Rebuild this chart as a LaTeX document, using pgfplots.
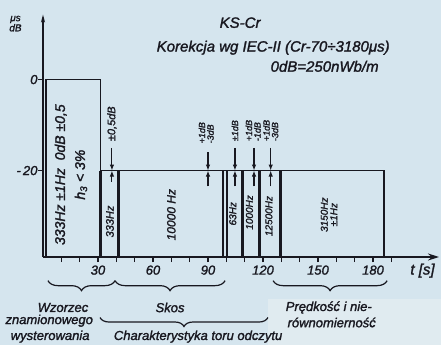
\documentclass[border=0pt]{standalone}
\usepackage{pgfplots}
\pgfplotsset{compat=1.18}
\usepackage{fontspec}
\setmainfont{Liberation Sans}[ItalicFeatures={FakeBold=1.6}]
\usetikzlibrary{arrows.meta,decorations.pathreplacing}
\definecolor{bg}{RGB}{213,229,238}
\definecolor{bglight}{RGB}{224,235,240}
\definecolor{ink}{RGB}{24,24,32}
\newcommand{\fs}[1]{\fontsize{#1}{#1}\selectfont\itshape}
\begin{document}
\begin{tikzpicture}
\fill[bg,use as bounding box] (-43pt,-88pt) rectangle (398pt,257pt);
\fill[bglight] (225pt,-88pt) rectangle (398pt,-42pt);
\begin{axis}[
  at={(0pt,0pt)}, anchor=south west,
  scale only axis, width=396pt, height=242.5pt,
  xmin=0, xmax=216, ymin=-39, ymax=14.3,
  axis lines=left,
  axis line style={ink,line width=1.5pt},
  x axis line style={-{Stealth[length=11pt,width=7pt]}},
  y axis line style={-{Stealth[length=8pt,width=4pt]}},
  xtick={30,60,...,180},
  minor xtick={10,20,...,190},
  ytick={-20,0}, yticklabels={{-\,20},{0}},
  tick align=outside,
  major tick length=5pt, minor tick length=5pt,
  tick style={ink,line width=1.2pt},
  ticklabel style={font=\fs{13}, text=ink},
  yticklabel style={xshift=3pt},
  /pgf/number format/assume math mode=true,
  clip=false,
]
% reference level box 0 dB
\addplot[ink,line width=1.6pt] coordinates {(1.6,-39)(1.6,0)(31.4,0)(31.4,-39)};
% -20 dB plateau
\addplot[ink,line width=1.5pt] coordinates {(31.4,-20)(186,-20)(186,-39)};
% separators
\addplot[ink,line width=3.5pt] coordinates {(31.4,-39)(31.4,-20)};
\addplot[ink,line width=3.5pt] coordinates {(41.2,-39)(41.2,-20)};
\addplot[ink,line width=1.4pt] coordinates {(98.2,-39)(98.2,-20)};
\addplot[ink,line width=1.4pt] coordinates {(100.4,-39)(100.4,-20)};
\addplot[ink,line width=3pt] coordinates {(108.6,-39)(108.6,-20)};
\addplot[ink,line width=3.5pt] coordinates {(118.1,-39)(118.1,-20)};
\addplot[ink,line width=3pt] coordinates {(129.3,-39)(129.3,-20)};
% tolerance arrows
\addplot[ink,line width=1.1pt,-{Latex[length=6pt,width=4.5pt]}] coordinates {(37.6,-15)(37.6,-20)};
\addplot[ink,line width=1.1pt,-{Latex[length=6pt,width=4.5pt]}] coordinates {(37.6,-22.5)(37.6,-20)};
\addplot[ink,line width=1.1pt,-{Latex[length=6pt,width=4.5pt]}] coordinates {(90,-16)(90,-20)};
\addplot[ink,line width=1.1pt,-{Latex[length=6pt,width=4.5pt]}] coordinates {(90,-23.5)(90,-20)};
\addplot[ink,line width=1.1pt,-{Latex[length=6pt,width=4.5pt]}] coordinates {(104.7,-15)(104.7,-20)};
\addplot[ink,line width=1.1pt,-{Latex[length=6pt,width=4.5pt]}] coordinates {(104.7,-23.5)(104.7,-20)};
\addplot[ink,line width=1.1pt,-{Latex[length=6pt,width=4.5pt]}] coordinates {(115.1,-15)(115.1,-20)};
\addplot[ink,line width=1.1pt,-{Latex[length=6pt,width=4.5pt]}] coordinates {(115.1,-23.5)(115.1,-20)};
\addplot[ink,line width=1.1pt,-{Latex[length=6pt,width=4.5pt]}] coordinates {(124.2,-15)(124.2,-20)};
\addplot[ink,line width=1.1pt,-{Latex[length=6pt,width=4.5pt]}] coordinates {(124.2,-23.5)(124.2,-20)};
% tolerance texts
\node[rotate=90,anchor=west,font=\fs{11},text=ink] at (axis cs:37.6,-14.3) {±0,5dB};
\node[rotate=90,anchor=west,font=\fontsize{9}{8.5}\selectfont\itshape,text=ink,align=left] at (axis cs:89,-14.8) {+1dB\\-3dB};
\node[rotate=90,anchor=west,font=\fs{9},text=ink] at (axis cs:104.7,-14.3) {±1dB};
\node[rotate=90,anchor=west,font=\fontsize{9}{8.5}\selectfont\itshape,text=ink,align=left] at (axis cs:114.6,-14.3) {+1dB\\-1dB};
\node[rotate=90,anchor=west,font=\fontsize{9}{8.5}\selectfont\itshape,text=ink,align=left] at (axis cs:124.2,-14.3) {+1dB\\-3dB};
% box labels
\node[rotate=90,font=\fontsize{14}{20}\selectfont\itshape,text=ink,align=center] at (axis cs:15.25,-20.9) {333Hz ±1Hz \ 0dB ±0,5\\h\textsubscript{3} < 3\%};
\node[rotate=90,font=\fs{11},text=ink] at (axis cs:36.5,-31.2) {333Hz};
\node[rotate=90,font=\fs{12},text=ink] at (axis cs:70,-29.7) {10000 Hz};
\node[rotate=90,font=\fs{10},text=ink] at (axis cs:103.5,-29.5) {63Hz};
\node[rotate=90,font=\fs{10},text=ink] at (axis cs:112.6,-29.2) {1000Hz};
\node[rotate=90,font=\fs{10},text=ink] at (axis cs:123.2,-30) {12500Hz};
\node[rotate=90,font=\fontsize{10}{9.5}\selectfont\itshape,text=ink,align=center] at (axis cs:156,-29.7) {3150Hz\\±1Hz};
% titles
\node[font=\fs{15},text=ink] at (axis cs:107.5,12.5) {KS-Cr};
\node[font=\fs{15},text=ink,anchor=east] at (axis cs:191,7.0) {Korekcja wg IEC-II (Cr-70÷3180μs)};
\node[font=\fs{15},text=ink,anchor=east] at (axis cs:185,2.9) {0dB=250nWb/m};
\node[font=\fs{15},text=ink] at (axis cs:207,-42) {t [s]};
\node[font=\fontsize{10}{9}\selectfont\itshape,text=ink,align=center] at (axis cs:-15,12.3) {μs\\dB};
% braces
\draw[ink,line width=1.2pt,decorate,decoration={brace,mirror,amplitude=10pt}] (axis cs:2.7,-44.2) -- (axis cs:39.3,-44.2);
\draw[ink,line width=1.2pt,decorate,decoration={brace,mirror,amplitude=10pt}] (axis cs:39.3,-44.2) -- (axis cs:99.3,-44.2);
\draw[ink,line width=1.2pt,decorate,decoration={brace,mirror,amplitude=9pt}] (axis cs:31.1,-52.3) -- (axis cs:122.7,-52.3);
\draw[ink,line width=1.2pt,decorate,decoration={brace,mirror,amplitude=10pt}] (axis cs:125.5,-44.2) -- (axis cs:187.7,-44.2);
% bottom labels
\node[font=\fs{13},text=ink] at (axis cs:10.9,-50.1) {Wzorzec};
\node[font=\fs{13},text=ink] at (axis cs:69.3,-50.1) {Skos};
\node[font=\fs{13},text=ink] at (axis cs:3.4,-53.0) {znamionowego};
\node[font=\fs{13},text=ink] at (axis cs:3.9,-56.5) {wysterowania};
\node[font=\fs{13},text=ink] at (axis cs:84.6,-56.5) {Charakterystyka toru odczytu};
\node[font=\fs{13},text=ink,anchor=west] at (axis cs:130.5,-50.1) {Prędkość i nie-};
\node[font=\fs{13},text=ink,anchor=west] at (axis cs:131.5,-53.4) {równomierność};
\end{axis}
\end{tikzpicture}
\end{document}
